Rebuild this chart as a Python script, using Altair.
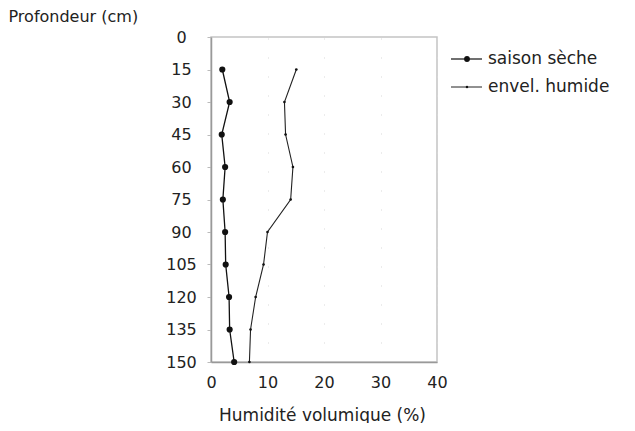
import altair as alt
import pandas as pd

# ---- data ----
depth = [15, 30, 45, 60, 75, 90, 105, 120, 135, 150]
saison_seche = [2.0, 3.3, 1.9, 2.5, 2.1, 2.5, 2.6, 3.2, 3.3, 4.1]
envel_humide = [15.1, 13.0, 13.2, 14.5, 14.1, 10.0, 9.3, 7.9, 7.0, 6.8]
series = ["saison sèche", "envel. humide"]
x_ticks = [0, 10, 20, 30, 40]
y_ticks = [0, 15, 30, 45, 60, 75, 90, 105, 120, 135, 150]

FONT = "DejaVu Sans"

df = pd.DataFrame({
    "depth": depth * 2,
    "value": saison_seche + envel_humide,
    "series": [series[0]] * len(depth) + [series[1]] * len(depth),
})

x_enc = alt.X(
    "value:Q",
    scale=alt.Scale(domain=[0, 40], nice=False, zero=False),
    axis=alt.Axis(
        values=x_ticks, tickSize=0, labelPadding=12, labelFontSize=16,
        labelFont=FONT, labelColor="#222", labelBaseline="top",
        labelFlush=False, labelOverlap=False,
        domainColor="#999", domainWidth=1.5,
        grid=True, gridColor="#d8d8d8", gridDash=[1, 18], gridWidth=1,
        title="Humidité volumique (%)", titleFont=FONT, titleFontSize=17,
        titleFontWeight="normal", titleColor="#222",
        titleBaseline="alphabetic", titleY=58, titleX=111,
    ),
)
y_enc = alt.Y(
    "depth:Q",
    scale=alt.Scale(domain=[0, 150], reverse=True, nice=False, zero=False),
    axis=alt.Axis(
        values=y_ticks, tickSize=4, tickColor="#bbb", labelPadding=26,
        labelAlign="center", labelBaseline="middle", labelFontSize=16,
        labelFont=FONT, labelColor="#222", labelOverlap=False, labelFlush=False,
        labelBound=False,
        domainColor="#999", domainWidth=1.5, grid=False,
        title="Profondeur (cm)", titleFont=FONT, titleFontSize=16,
        titleFontWeight="normal", titleColor="#222", titleAngle=0,
        titleAlign="left", titleBaseline="alphabetic", titleX=-203, titleY=-16,
    ),
)

base = alt.Chart(df)

seche_line = base.transform_filter(alt.datum.series == series[0]).mark_line(
    color="#111", strokeWidth=1.3
).encode(x=x_enc, y=y_enc, order="depth:Q")
seche_pts = base.transform_filter(alt.datum.series == series[0]).mark_point(
    filled=True, color="#111", size=38, opacity=1
).encode(x=x_enc, y=y_enc)

hum_line = base.transform_filter(alt.datum.series == series[1]).mark_line(
    color="#222", strokeWidth=1.1
).encode(x=x_enc, y=y_enc, order="depth:Q")
hum_pts = base.transform_filter(alt.datum.series == series[1]).mark_point(
    filled=True, color="#111", size=7, opacity=1
).encode(x=x_enc, y=y_enc)

# ---- manual legend ----
legend_layers = []
row_y = [22, 50]
pt_sizes = [34, 6]
line_widths = [1.3, 1]
for i, name in enumerate(series):
    ld = pd.DataFrame({"label": [name]})
    lc = alt.Chart(ld)
    legend_layers.append(
        lc.mark_rule(color="#222", strokeWidth=line_widths[i]).encode(
            x=alt.value(240), x2=alt.value(271), y=alt.value(row_y[i])
        )
    )
    legend_layers.append(
        lc.mark_point(filled=True, color="#111", size=pt_sizes[i], opacity=1).encode(
            x=alt.value(256), y=alt.value(row_y[i])
        )
    )
    legend_layers.append(
        lc.mark_text(align="left", baseline="middle", font=FONT, fontSize=17,
                     color="#222").encode(
            x=alt.value(277), y=alt.value(row_y[i]), text="label:N"
        )
    )

chart = alt.layer(
    seche_line, seche_pts, hum_line, hum_pts, *legend_layers
).properties(
    width=226, height=325,
    autosize=alt.AutoSizeParams(type="none"),
    padding={"left": 203, "top": 29, "right": 190, "bottom": 61},
    background="white",
).configure_view(
    stroke="#c4c4c4", strokeWidth=1.5
).configure_axis(
    labelOverlap=False
)

chart.save("out.html", embed_options={"renderer": "svg", "actions": False})
